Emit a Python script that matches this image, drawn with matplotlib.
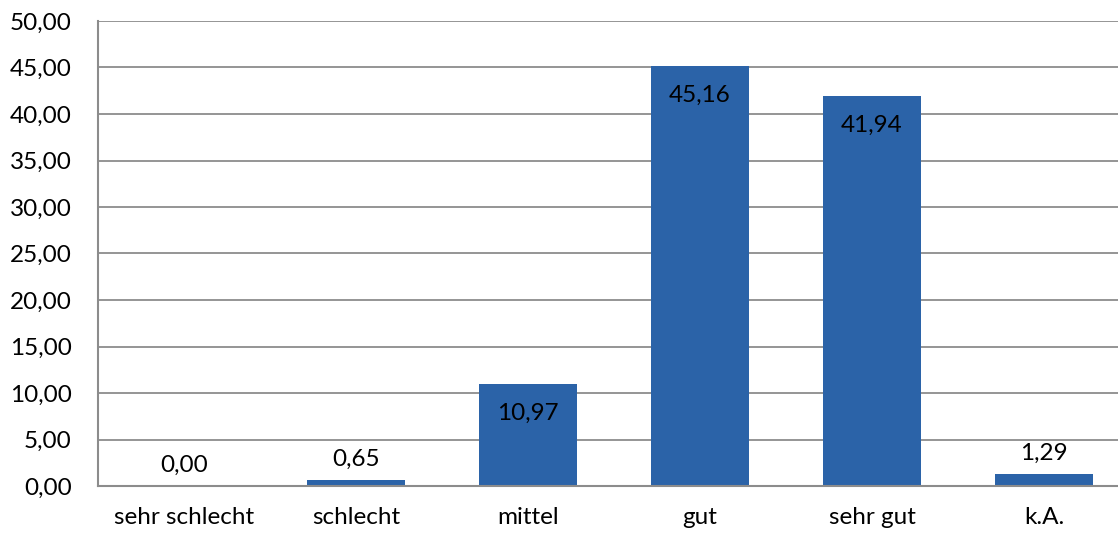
import matplotlib
matplotlib.use("Agg")
import matplotlib.pyplot as plt

categories = ["sehr schlecht", "schlecht", "mittel", "gut", "sehr gut", "k.A."]
values = [0.00, 0.65, 10.97, 45.16, 41.94, 1.29]
yticks = [0, 5, 10, 15, 20, 25, 30, 35, 40, 45, 50]

plt.rcParams['font.family'] = ['Lato', 'DejaVu Sans']
FS = 17.5

fig = plt.figure(figsize=(11.18, 5.36), dpi=100)
ax = fig.add_axes([98/1118, 1 - 486/536, 1032/1118, 465/536])

x = list(range(len(categories)))
ax.bar(x, values, width=0.57, color="#2B63A8", zorder=3)
ax.set_xlim(-0.5, len(categories) - 0.5)
ax.set_ylim(0, 50)
ax.set_yticks(yticks)
ax.set_yticklabels([f"{v:.2f}".replace(".", ",") for v in yticks], fontsize=FS)
ax.set_xticks(x)
ax.set_xticklabels(categories, fontsize=FS)
ax.tick_params(axis='both', length=0)
ax.tick_params(axis='y', pad=19)
ax.tick_params(axis='x', pad=15)
ax.grid(axis='y', color="#8C8C8C", linewidth=1.3, zorder=0)
for s in ["top", "right"]:
    ax.spines[s].set_visible(False)
for s in ["left", "bottom"]:
    ax.spines[s].set_color("#8C8C8C")
    ax.spines[s].set_linewidth(1.5)
ax.spines["bottom"].set_zorder(4)

for xi, v in zip(x, values):
    lab = f"{v:.2f}".replace(".", ",")
    if v > 5:
        ax.annotate(lab, (xi, v), xytext=(0, -21), textcoords="offset points",
                    ha="center", va="center", fontsize=FS, color="#000000", zorder=5)
    else:
        ax.annotate(lab, (xi, v), xytext=(0, 15), textcoords="offset points",
                    ha="center", va="center", fontsize=FS, color="#000000", zorder=5)

fig.savefig("out.png", dpi=100)
